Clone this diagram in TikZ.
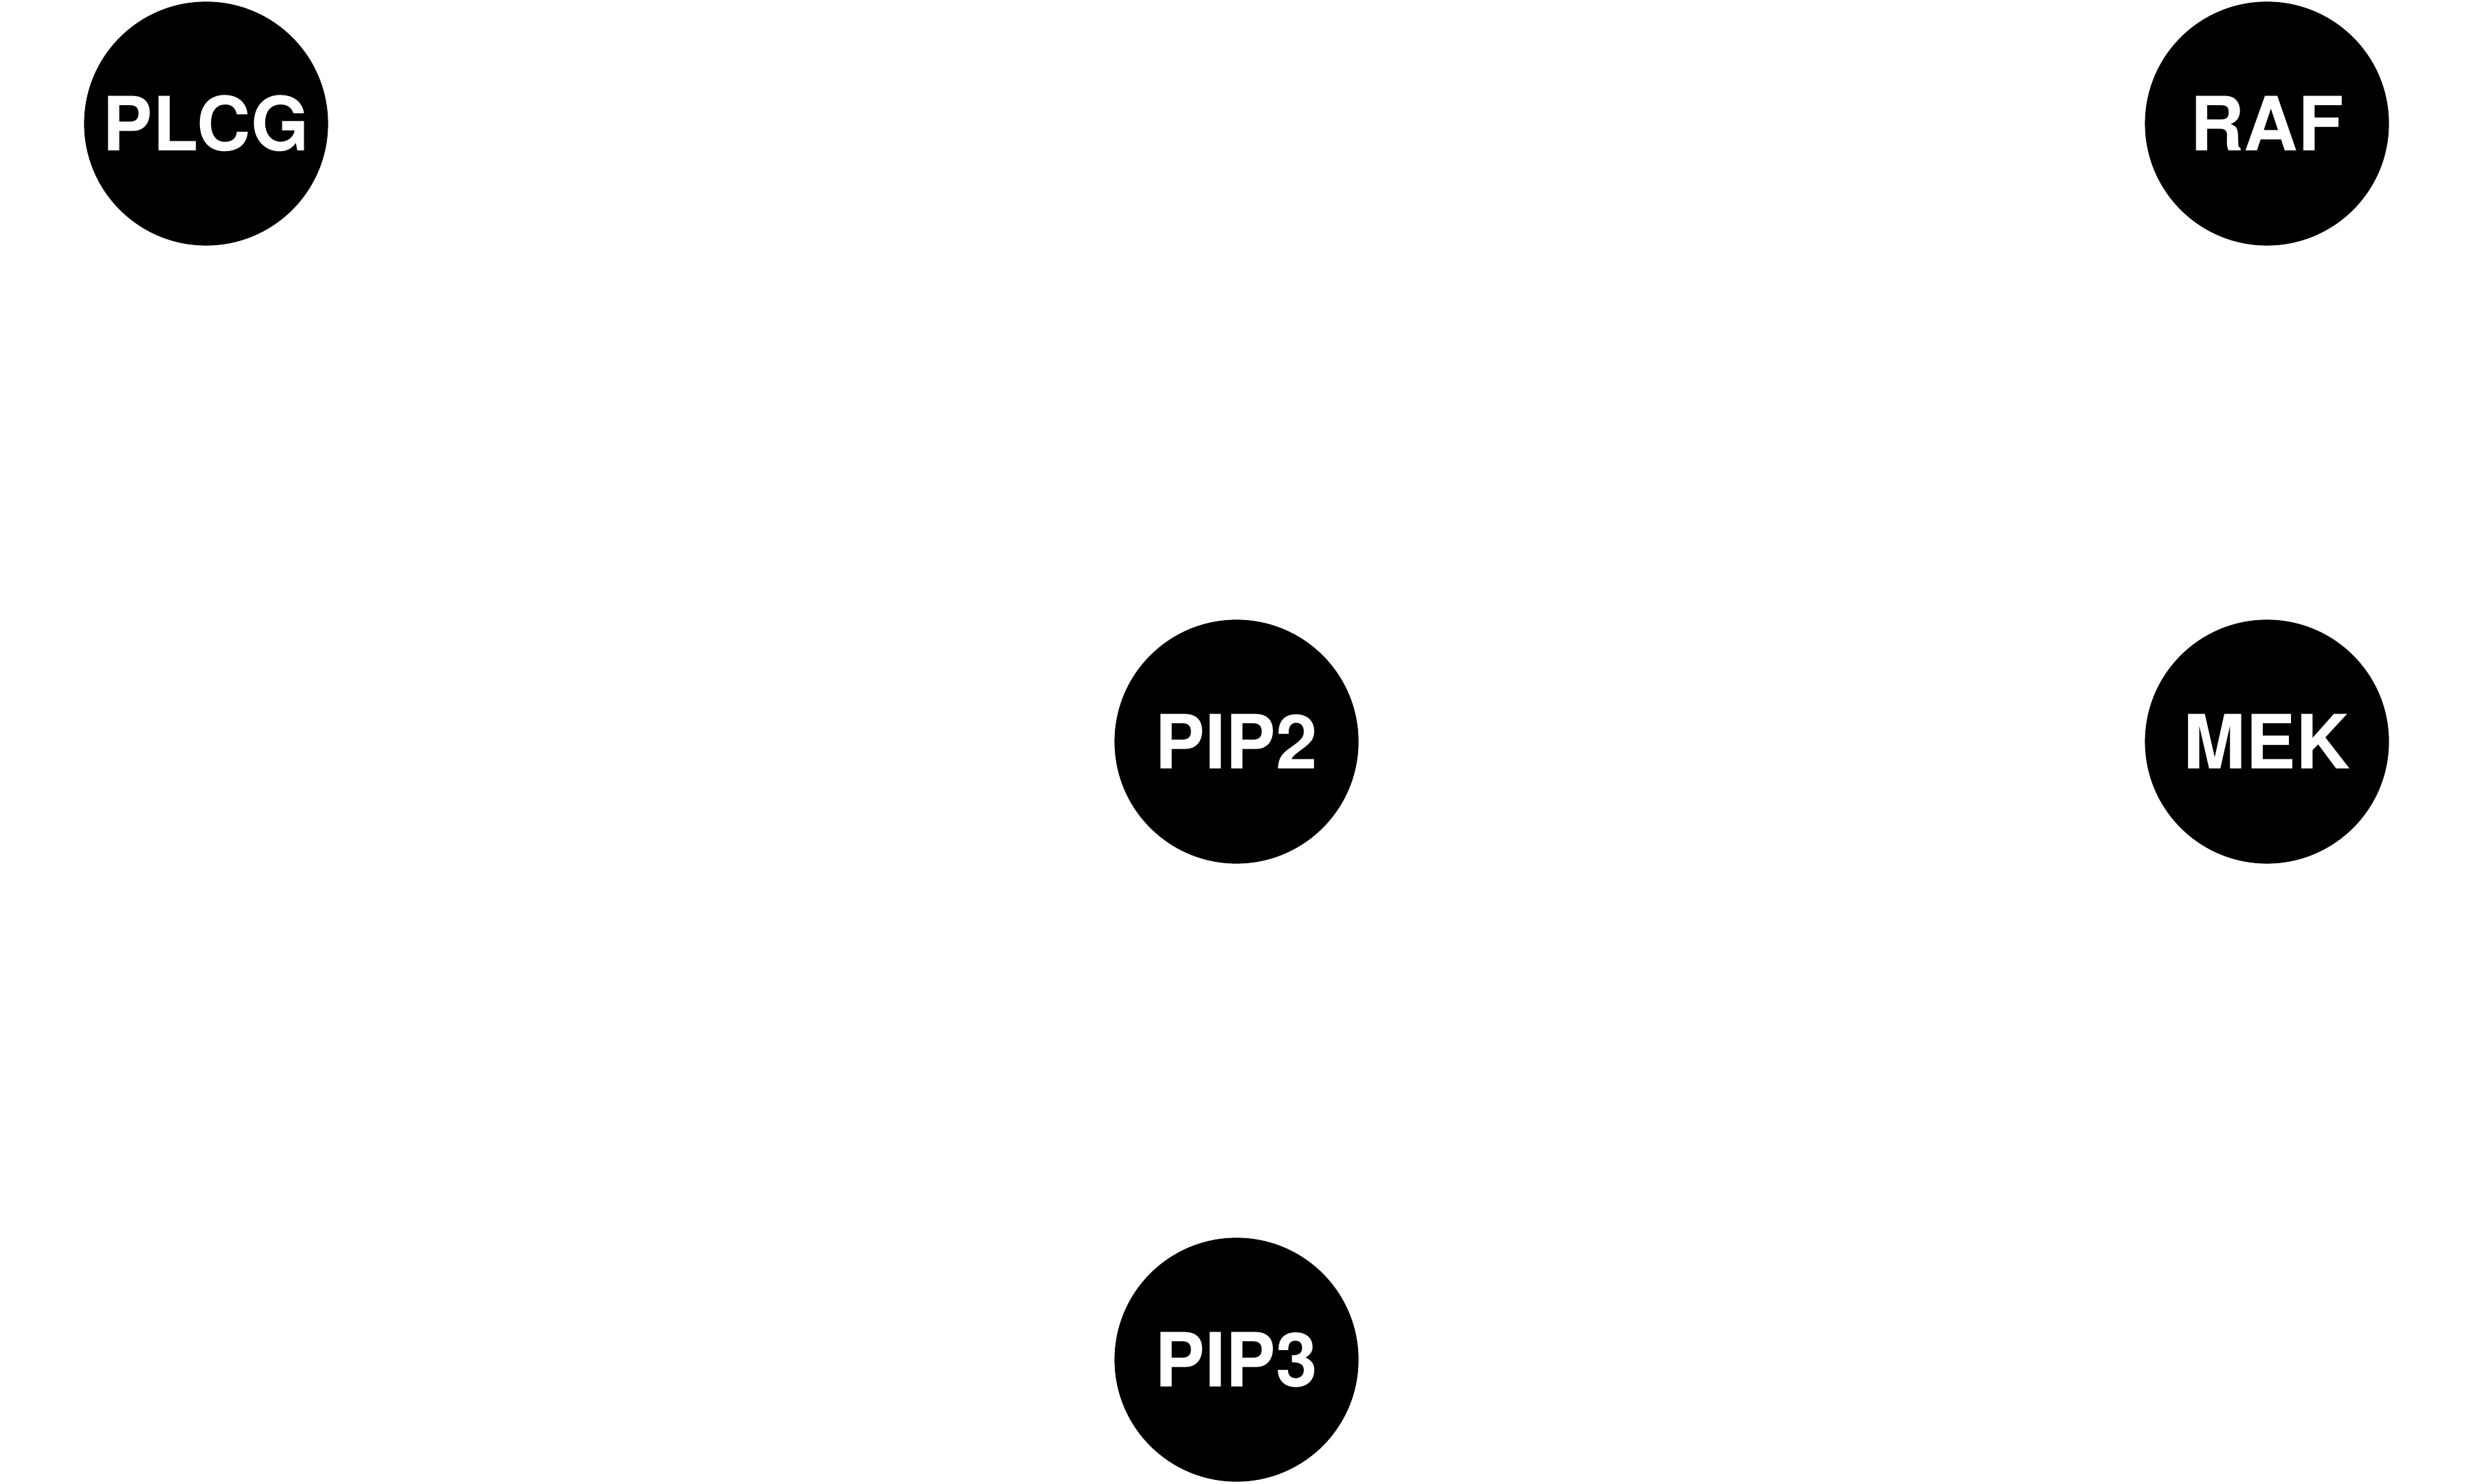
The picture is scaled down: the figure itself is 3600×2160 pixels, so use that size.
\documentclass[tikz,border=0pt]{standalone}
\usepackage{fontspec}
\setmainfont{TeX Gyre Heros}
\usepackage{tikz}

\begin{document}
\begin{tikzpicture}[x=0.01cm, y=0.01cm,
    protein/.style={circle, fill=black, minimum size=3.55cm, inner sep=0pt,
        text=white, font=\fontsize{31}{37}\selectfont\bfseries}]
% Fix the frame of the picture
\useasboundingbox (0,0) rectangle (3600,2160);

% draw the proteins:
\node[protein] (plcg) at (300, 1980) {PLCG};
\node[protein] (raf)  at (3300,1980) {RAF};
\node[protein] (pip2) at (1800,1080) {PIP2};
\node[protein] (mek)  at (3300,1080) {MEK};
\node[protein] (pip3) at (1800, 180) {PIP3};
\end{tikzpicture}
\end{document}
